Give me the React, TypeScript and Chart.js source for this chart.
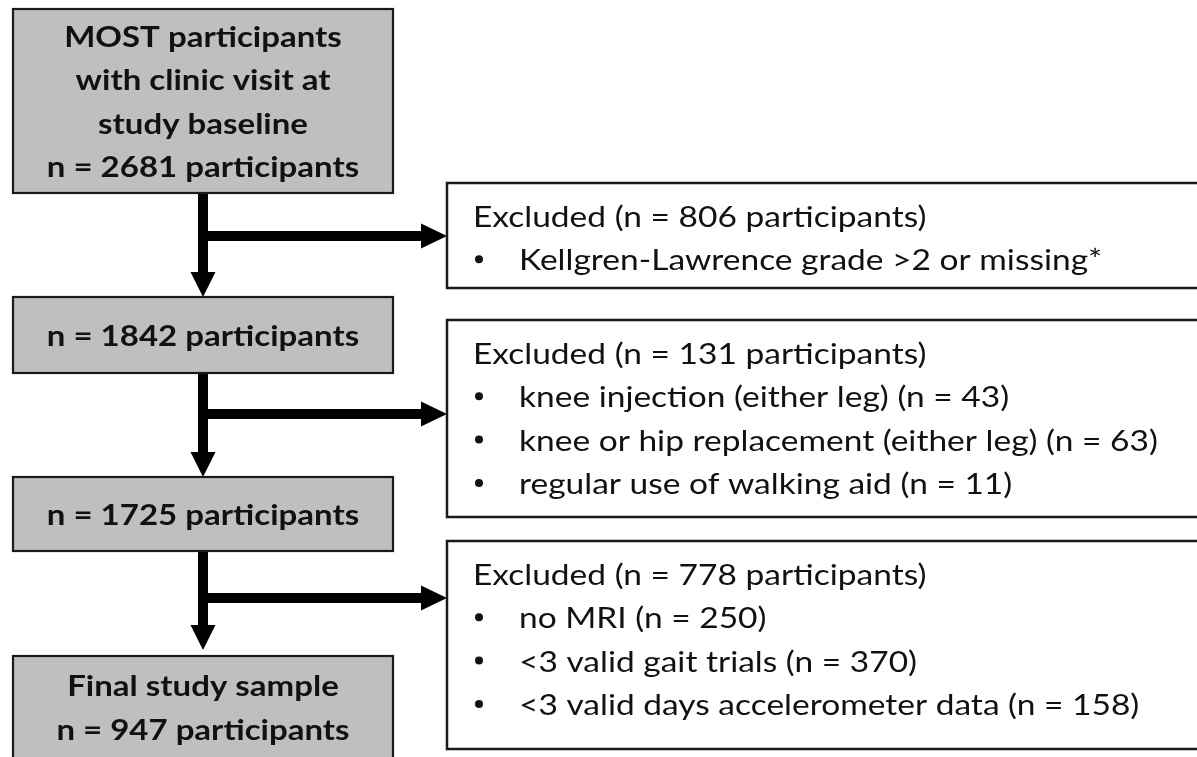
import React, { useEffect, useRef } from "react";
import { Chart, registerables } from "chart.js";

Chart.register(...registerables);

// ---- data ----
const mainTitles: string[][] = [
  ["MOST participants", "with clinic visit at", "study baseline"],
  [],
  [],
  ["Final study sample"],
];
const mainCounts: number[] = [2681, 1842, 1725, 947];
const excludedCounts: number[] = [806, 131, 778];
const excludedReasons: string[][] = [
  ["Kellgren-Lawrence grade >2 or missing*"],
  ["knee injection (either leg)", "knee or hip replacement (either leg)", "regular use of walking aid"],
  ["no MRI", "<3 valid gait trials", "<3 valid days accelerometer data"],
];
const reasonCounts: (number | null)[][] = [
  [null],
  [43, 63, 11],
  [250, 370, 158],
];

// ---- layout (axis units = pixels of the 1197x757 frame) ----
const W = 1197;
const H = 757;
const MAIN_X = [13, 393];
const MAIN_Y: [number, number][] = [
  [9, 193],
  [297, 373],
  [477, 551],
  [656, 760],
];
const SIDE_X = [447, 1205];
const SIDE_Y: [number, number][] = [
  [183, 288],
  [320, 517],
  [541, 749],
];
const TRUNK_X = 203;
const BRANCH_Y = [236, 414, 598];
const ARROW_TIPS = [297, 477, 650];
const LINE_GAP = 43.3;
const TEXT_SQUASH = 0.89;

const FONT = "Lato, 'Open Sans', sans-serif";

function squashedText(ctx: CanvasRenderingContext2D, t: string, x: number, y: number) {
  ctx.save();
  ctx.translate(x, y);
  ctx.scale(1, TEXT_SQUASH);
  ctx.fillText(t, 0, 0);
  ctx.restore();
}

const flowPlugin = {
  id: "flow",
  afterDraw(chart: any) {
    const ctx: CanvasRenderingContext2D = chart.ctx;
    const xs = chart.scales.x;
    const ys = chart.scales.y;
    const px = (v: number) => xs.getPixelForValue(v);
    const py = (v: number) => ys.getPixelForValue(v);

    ctx.save();
    ctx.fillStyle = "#ffffff";
    ctx.fillRect(0, 0, chart.width, chart.height);

    // arrows
    ctx.fillStyle = "#000";
    ctx.strokeStyle = "#000";
    for (let i = 0; i < 3; i++) {
      const top = py(MAIN_Y[i][1]);
      const tip = py(ARROW_TIPS[i]);
      const tx = px(TRUNK_X);
      ctx.fillRect(tx - 5, top, 10, tip - 24 - top);
      ctx.beginPath();
      ctx.moveTo(tx - 12.5, tip - 25);
      ctx.lineTo(tx + 12.5, tip - 25);
      ctx.lineTo(tx, tip);
      ctx.closePath();
      ctx.fill();
      const by = py(BRANCH_Y[i]);
      const hx = px(SIDE_X[0]);
      ctx.fillRect(tx, by - 5, hx - 25 - tx + 1, 10);
      ctx.beginPath();
      ctx.moveTo(hx - 26, by - 12.5);
      ctx.lineTo(hx - 26, by + 12.5);
      ctx.lineTo(hx, by);
      ctx.closePath();
      ctx.fill();
    }

    // main boxes
    for (let i = 0; i < mainCounts.length; i++) {
      const x0 = px(MAIN_X[0]);
      const x1 = px(MAIN_X[1]);
      const y0 = py(MAIN_Y[i][0]);
      const y1 = py(MAIN_Y[i][1]);
      ctx.fillStyle = "#bfbfbf";
      ctx.fillRect(x0, y0, x1 - x0, y1 - y0);
      ctx.lineWidth = 2.2;
      ctx.strokeStyle = "#1a1a1a";
      ctx.strokeRect(x0, y0, x1 - x0, y1 - y0);

      const lines = [...mainTitles[i], `n = ${mainCounts[i]} participants`];
      ctx.fillStyle = "#111";
      ctx.font = `bold 33px ${FONT}`;
      ctx.textAlign = "center";
      ctx.textBaseline = "alphabetic";
      const cy = i === 3 ? py(707) : (y0 + y1) / 2;
      const cx = px(TRUNK_X);
      lines.forEach((t, k) => {
        const base = cy - ((lines.length - 1) / 2) * LINE_GAP + k * LINE_GAP + 11;
        squashedText(ctx, t, cx, base);
      });
    }

    // side boxes
    for (let i = 0; i < excludedCounts.length; i++) {
      const x0 = px(SIDE_X[0]);
      const x1 = px(SIDE_X[1]);
      const y0 = py(SIDE_Y[i][0]);
      const y1 = py(SIDE_Y[i][1]);
      ctx.fillStyle = "#fff";
      ctx.fillRect(x0, y0, x1 - x0, y1 - y0);
      ctx.lineWidth = 2.5;
      ctx.strokeStyle = "#1a1a1a";
      ctx.strokeRect(x0, y0, x1 - x0, y1 - y0);

      ctx.fillStyle = "#111";
      ctx.font = `33.5px ${FONT}`;
      ctx.textAlign = "left";
      ctx.textBaseline = "alphabetic";
      const base0 = y0 + 44;
      squashedText(ctx, `Excluded (n = ${excludedCounts[i]} participants)`, x0 + 26, base0);
      excludedReasons[i].forEach((r, k) => {
        const base = base0 + (k + 1) * LINE_GAP;
        const c = reasonCounts[i][k];
        ctx.beginPath();
        ctx.arc(x0 + 32, base - 11, 4, 0, Math.PI * 2);
        ctx.fill();
        squashedText(ctx, c == null ? r : `${r} (n = ${c})`, x0 + 72, base);
      });
    }
    ctx.restore();
  },
};

export default function App() {
  const ref = useRef<HTMLCanvasElement | null>(null);
  useEffect(() => {
    document.body.style.margin = "0";
    if (!ref.current) return;
    const chart = new Chart(ref.current, {
      type: "scatter",
      data: { datasets: [{ data: [], pointRadius: 0 }] },
      options: {
        animation: false,
        responsive: false,
        maintainAspectRatio: false,
        layout: { padding: 0 },
        plugins: { legend: { display: false }, tooltip: { enabled: false }, title: { display: false } },
        scales: {
          x: { type: "linear", min: 0, max: W, display: false },
          y: { type: "linear", min: 0, max: H, reverse: true, display: false },
        },
      },
      plugins: [flowPlugin],
    });
    return () => chart.destroy();
  }, []);
  return (
    <div style={{ width: W, height: H, background: "#fff" }}>
      <canvas ref={ref} width={W} height={H} style={{ display: "block" }} />
    </div>
  );
}
